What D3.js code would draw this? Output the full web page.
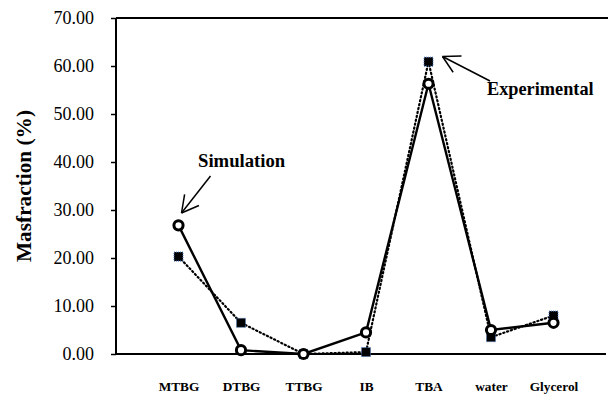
<!DOCTYPE html>
<html>
<head>
<meta charset="utf-8">
<script src="https://cdn.jsdelivr.net/npm/d3@7"></script>
<style>
  html, body { margin: 0; padding: 0; background: #fff; }
  svg { display: block; }
</style>
</head>
<body>
<svg id="chart" width="608" height="394"></svg>
<script>
// Component mass fractions: simulated vs. experimental
const categories = ["MTBG", "DTBG", "TTBG", "IB", "TBA", "water", "Glycerol"];
const simulation = [26.8, 0.8, 0.0, 4.5, 56.3, 5.0, 6.5];
const experimental = [20.3, 6.5, 0.0, 0.4, 60.9, 3.5, 8.0];
const yTicks = [0, 10, 20, 30, 40, 50, 60, 70];

const svg = d3.select("#chart");
const serif = '"Liberation Serif", "Times New Roman", serif';

const plotLeft = 116, plotRight = 616, plotTop = 18, plotBottom = 354;

// categories sit at positions 1..7 of an 8-slot axis
const x = d3.scaleLinear().domain([0, categories.length + 1]).range([plotLeft, plotRight]);
const y = d3.scaleLinear().domain([0, 70]).range([plotBottom, plotTop]);

// frame: top line
svg.append("line").attr("x1", plotLeft).attr("x2", 608).attr("y1", plotTop).attr("y2", plotTop)
  .attr("stroke", "#000").attr("stroke-width", 2);

// y axis
const yAxis = d3.axisLeft(y).tickValues(yTicks).tickFormat(d3.format(".2f")).tickSize(5).tickPadding(17);
const gy = svg.append("g").attr("transform", `translate(${plotLeft},0)`).call(yAxis);
gy.select(".domain").attr("stroke-width", 2).attr("d", `M0,${plotTop}V${plotBottom}`);
gy.selectAll(".tick line").attr("stroke-width", 1.5);
gy.selectAll(".tick text").style("font-family", serif).style("font-size", "18px").attr("fill", "#000");

// x axis baseline
const xAxis = d3.axisBottom(x).tickValues(d3.range(1, categories.length + 1))
  .tickFormat(i => categories[i - 1]).tickSize(0).tickPadding(28);
const gx = svg.append("g").attr("transform", `translate(0,${plotBottom})`).call(xAxis);
gx.select(".domain").attr("stroke-width", 2).attr("d", `M${plotLeft},0H606`);
gx.selectAll(".tick text").style("font-family", serif).style("font-size", "13.3px")
  .style("font-weight", "bold").attr("fill", "#000");

// y title
svg.append("text")
  .attr("transform", `translate(31,186) rotate(-90)`)
  .attr("text-anchor", "middle")
  .style("font-family", serif).style("font-size", "21.3px").style("font-weight", "bold")
  .text("Masfraction (%)");

const px = (d, i) => x(i + 1);
const line = d3.line().x(px).y(d => y(d));

// experimental: dotted line with filled squares
svg.append("path").datum(experimental).attr("d", line)
  .attr("fill", "none").attr("stroke", "#000").attr("stroke-width", 2.2)
  .attr("stroke-dasharray", "1.2,2.8").attr("stroke-linecap", "round");

// simulation: solid line with open circles
svg.append("path").datum(simulation).attr("d", line)
  .attr("fill", "none").attr("stroke", "#000").attr("stroke-width", 2.4);

svg.append("g").selectAll("rect").data(experimental).join("rect")
  .attr("x", (d, i) => px(d, i) - 4.5).attr("y", d => y(d) - 4.5)
  .attr("width", 9).attr("height", 9)
  .attr("fill", "#000").attr("stroke", "#4a78b8").attr("stroke-width", 1)
  .attr("stroke-dasharray", "1,1");

svg.append("g").selectAll("circle").data(simulation).join("circle")
  .attr("cx", (d, i) => px(d, i)).attr("cy", d => y(d)).attr("r", 4.6)
  .attr("fill", "#fff").attr("stroke", "#000").attr("stroke-width", 3);

// annotations
function arrow(x1, y1, x2, y2) {
  const ang = Math.atan2(y2 - y1, x2 - x1);
  const len = 19, spread = 0.5;
  svg.append("line").attr("x1", x1).attr("y1", y1).attr("x2", x2).attr("y2", y2)
    .attr("stroke", "#000").attr("stroke-width", 1.5);
  [-spread, spread].forEach(s => {
    svg.append("line").attr("x1", x2).attr("y1", y2)
      .attr("x2", x2 - len * Math.cos(ang + s)).attr("y2", y2 - len * Math.sin(ang + s))
      .attr("stroke", "#000").attr("stroke-width", 1.5);
  });
}
arrow(210.5, 176, 181.5, 213);
arrow(490, 81, 442.5, 56.5);

svg.append("text").attr("x", 198).attr("y", 167)
  .style("font-family", serif).style("font-size", "18.7px").style("font-weight", "bold").text("Simulation");
svg.append("text").attr("x", 487).attr("y", 95)
  .style("font-family", serif).style("font-size", "18.3px").style("font-weight", "bold").text("Experimental");
</script>
</body>
</html>
